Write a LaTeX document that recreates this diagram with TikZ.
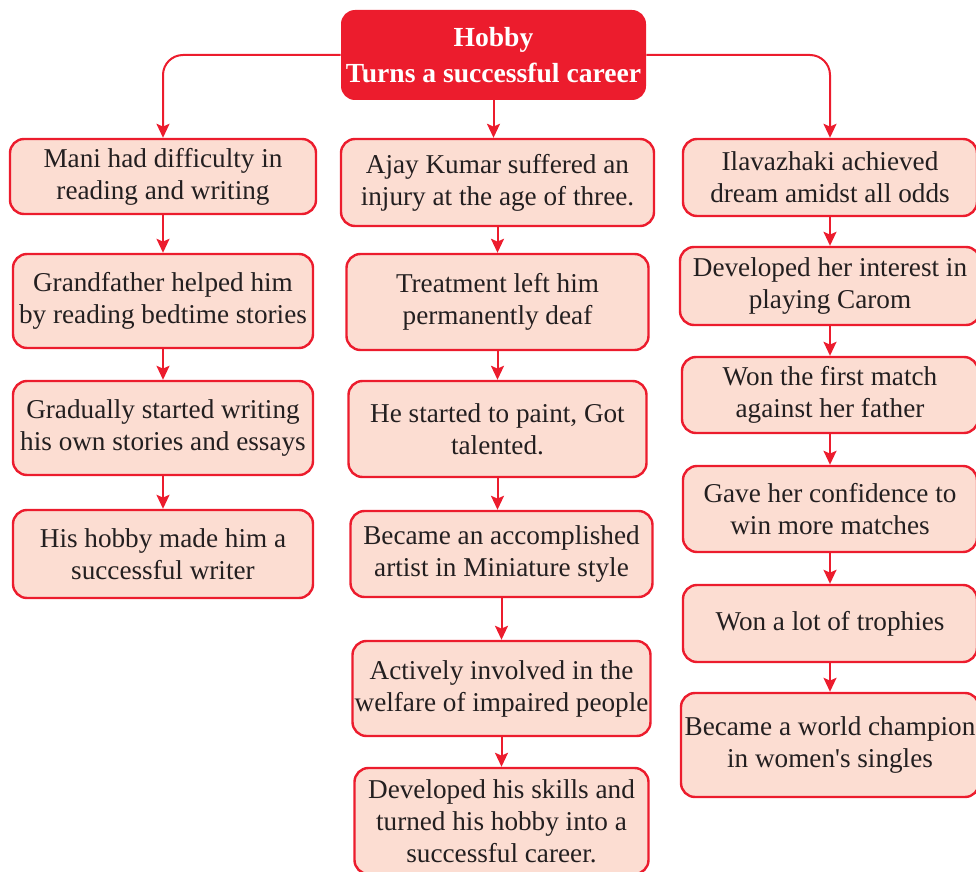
\documentclass[tikz,border=0pt]{standalone}
\usepackage{fontspec}
\setmainfont{Liberation Serif}
\usetikzlibrary{positioning,arrows.meta}
\definecolor{hobbyred}{HTML}{EC1C2D}
\definecolor{hobbypink}{HTML}{FCDDD2}
\definecolor{hobbyink}{HTML}{231F20}
\tikzset{
  every node/.style={
    rounded corners=7pt,
    align=center,
    inner sep=1pt
  },
  stepbox/.style={
    draw=hobbyred, line width=1.2pt, fill=hobbypink, text=hobbyink,
    font=\fontsize{13.6}{16}\selectfont,
    minimum width=150pt
  },
  headbox/.style={
    fill=hobbyred, text=white,
    font=\bfseries\fontsize{13.8}{18}\selectfont,
    minimum width=152.5pt, minimum height=45pt
  },
  flow/.style={
    draw=hobbyred, line width=1pt,
    -{Stealth[length=7pt,width=6.5pt,inset=1.4pt]}
  }
}

\begin{document}
\begin{tikzpicture}[x=0.5pt,y=-0.5pt]
          \useasboundingbox (0,0) rectangle (976,872);
          \node[headbox] (Head) at (493.5,55) {Hobby\\Turns a successful career};
          \node[stepbox, minimum width=153pt, minimum height=37.5pt] (Mani1) at (163,176.5) {Mani had difficulty in\\reading and writing};
          \node[stepbox, on grid, below=62.25pt of Mani1, minimum height=47pt] (Mani2) {Grandfather helped him\\by reading bedtime stories};
          \node[stepbox, on grid, below=63.5pt of Mani2, minimum height=47pt] (Mani3) {Gradually started writing\\his own stories and essays};
          \node[stepbox, on grid, below=63pt of Mani3, minimum height=44pt] (Mani4) {His hobby made him a\\successful writer};
          \node[stepbox, minimum width=156.5pt, minimum height=43.5pt] (Ajay1) at (497.5,182.5) {Ajay Kumar suffered an\\injury at the age of three.};
          \node[stepbox, on grid, below=59.75pt of Ajay1, minimum width=151pt, minimum height=48pt] (Ajay2) {Treatment left him\\permanently deaf};
          \node[stepbox, on grid, below=63.5pt of Ajay2, minimum width=149pt, minimum height=48pt] (Ajay3) {He started to paint, Got\\talented.};
          \node[stepbox, on grid, below=62.5pt of Ajay3, xshift=2pt, minimum width=151pt, minimum height=43pt] (Ajay4) {Became an accomplished\\artist in Miniature style};
          \node[stepbox, on grid, below=67.25pt of Ajay4, minimum width=149pt, minimum height=47.5pt] (Ajay5) {Actively involved in the\\welfare of impaired people};
          \node[stepbox, on grid, below=66.25pt of Ajay5, minimum width=147pt, minimum height=53pt] (Ajay6) {Developed his skills and\\turned his hobby into a\\successful career.};
          \node[stepbox, minimum width=147pt, minimum height=38.5pt] (Ila1) at (830,177.5) {Ilavazhaki achieved\\dream amidst all odds};
          \node[stepbox, on grid, below=54.25pt of Ila1, minimum height=39pt] (Ila2) {Developed her interest in\\playing Carom};
          \node[stepbox, on grid, below=54.5pt of Ila2, minimum width=148pt, minimum height=38pt] (Ila3) {Won the first match\\against her father};
          \node[stepbox, on grid, below=57pt of Ila3, minimum width=147pt, minimum height=43pt] (Ila4) {Gave her confidence to\\win more matches};
          \node[stepbox, on grid, below=57.25pt of Ila4, minimum width=147pt, minimum height=38.5pt] (Ila5) {Won a lot of trophies};
          \node[stepbox, on grid, below=60.75pt of Ila5, minimum width=149pt, minimum height=52pt] (Ila6) {Became a world champion\\in women\textquotesingle s singles};
          \draw[flow, rounded corners=10pt] (Head.west) -| (Mani1.north);
          \draw[flow] (Head.south) -- (Head.south |- Ajay1.north);
          \draw[flow, rounded corners=10pt] (Head.east) -| (Ila1.north);
          \draw[flow] (Mani1) -- (Mani2);
          \draw[flow] (Mani2) -- (Mani3);
          \draw[flow] (Mani3) -- (Mani4);
          \draw[flow] (Ajay1.south) -- (Ajay1.south |- Ajay2.north);
          \draw[flow] (Ajay2) -- (Ajay3);
          \draw[flow] (Ajay3.south) -- (Ajay3.south |- Ajay4.north);
          \draw[flow] (Ajay4) -- (Ajay5);
          \draw[flow] (Ajay5) -- (Ajay6);
          \draw[flow] (Ila1) -- (Ila2);
          \draw[flow] (Ila2) -- (Ila3);
          \draw[flow] (Ila3) -- (Ila4);
          \draw[flow] (Ila4) -- (Ila5);
          \draw[flow] (Ila5) -- (Ila6);
        \end{tikzpicture}
\end{document}
